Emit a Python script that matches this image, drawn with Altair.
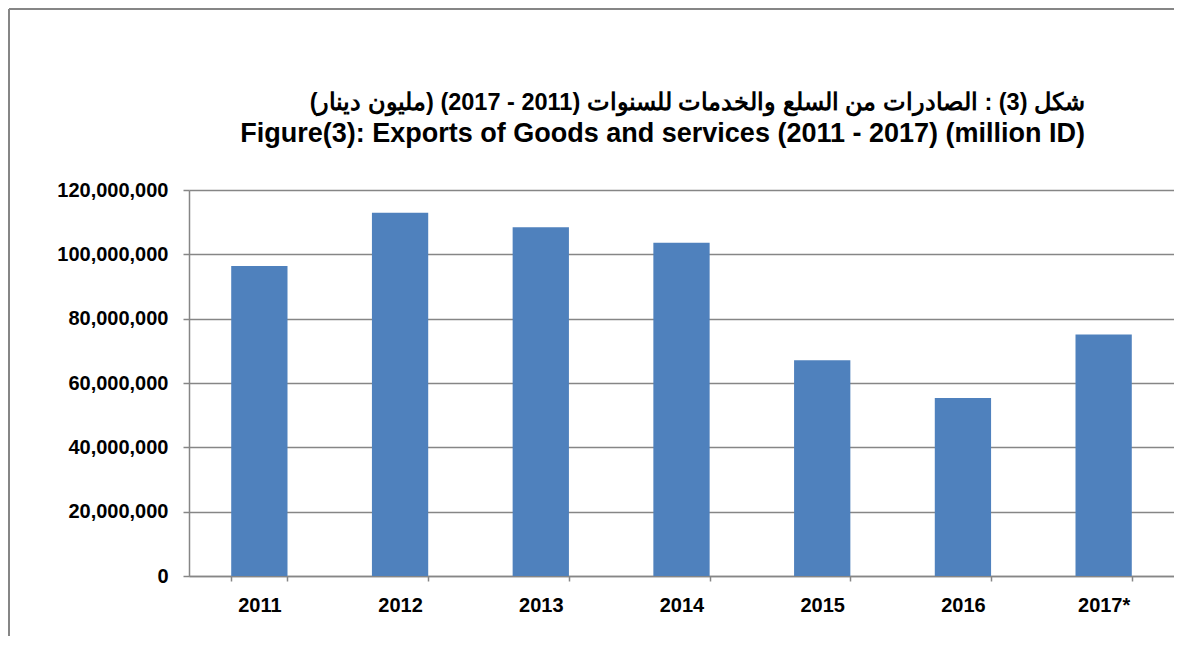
import altair as alt
import pandas as pd

years = ["2011", "2012", "2013", "2014", "2015", "2016", "2017*"]
exports = [96400000, 112900000, 108400000, 103600000, 67100000, 55300000, 75100000]
y_ticks = [0, 20000000, 40000000, 60000000, 80000000, 100000000, 120000000]

title_ar = "\u202bشكل (3) : الصادرات من السلع والخدمات للسنوات (2011 - 2017) (مليون دينار)\u202c"
title_en = "Figure(3): Exports of Goods and services (2011 - 2017) (million ID)"

df = pd.DataFrame({"year": years, "value": exports})

W = 985
H = 386
PAD_L = 181
PAD_T = 182
PAD_B = 60

GRAY = "#868686"
FONT = "Liberation Sans"

bars = alt.Chart(df).mark_bar(color="#4F81BD").encode(
    x=alt.X("year:N", sort=None,
            scale=alt.Scale(paddingInner=0.6, paddingOuter=0.3),
            axis=alt.Axis(title=None, labelAngle=0, tickBand="extent",
                          tickSize=5, labelPadding=14, grid=False)),
    y=alt.Y("value:Q",
            scale=alt.Scale(domain=[0, 120000000], nice=False),
            axis=alt.Axis(title=None, values=y_ticks, format=",d",
                          tickSize=6, labelPadding=15, grid=True)),
)

frame = pd.DataFrame({"k": [0]})
top_line = alt.Chart(frame).mark_rule(color=GRAY, strokeWidth=2).encode(
    x=alt.value(-PAD_L + 1), x2=alt.value(W), y=alt.value(-PAD_T + 1)
)
left_line = alt.Chart(frame).mark_rule(color=GRAY, strokeWidth=2).encode(
    x=alt.value(-PAD_L + 1), y=alt.value(-PAD_T + 1), y2=alt.value(H + PAD_B)
)

chart = alt.layer(bars, top_line, left_line).properties(
    width=W,
    height=H,
    autosize=alt.AutoSizeParams(type="none"),
    padding={"left": PAD_L, "top": PAD_T, "right": 0, "bottom": PAD_B},
    title=alt.TitleParams(
        text=title_ar, subtitle=title_en,
        anchor="end", align="right", frame="group",
        fontSize=23.5, font=FONT, fontWeight="bold", color="black",
        subtitleFont=FONT, subtitleFontSize=27, subtitleFontWeight="bold",
        subtitleColor="black", subtitlePadding=7,
        offset=0, dx=-89, dy=139,
    ),
).configure_axis(
    labelFont=FONT, labelFontSize=20, labelFontWeight="bold", labelColor="black",
    domainColor=GRAY, tickColor=GRAY, gridColor=GRAY, domainWidth=1.5,
    tickWidth=1.5, gridWidth=1.5,
).configure_view(stroke=None)

chart.save("out.html", embed_options={"renderer": "svg", "actions": False})
